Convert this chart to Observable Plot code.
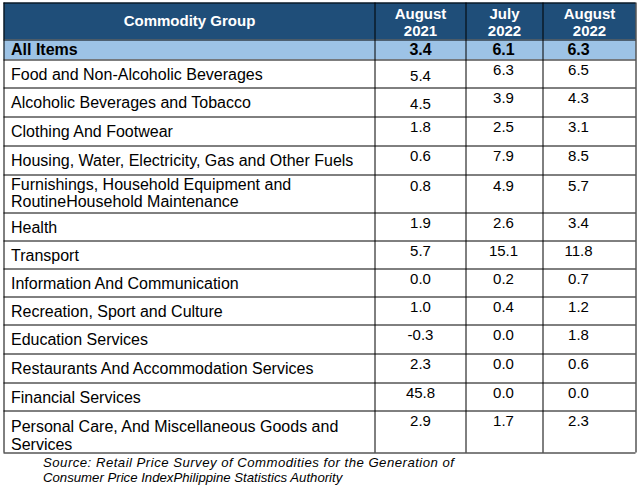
<!DOCTYPE html>
<html><head><meta charset="utf-8">
<script src="https://cdn.jsdelivr.net/npm/d3@7"></script>
<script src="https://cdn.jsdelivr.net/npm/@observablehq/plot@0.6"></script>
<style>html,body{margin:0;padding:0;background:#fff}</style>
</head><body><div id="chart"></div>
<script>
// ---- data ----
const columnHeaders = ["Commodity Group", "August\n2021", "July\n2022", "August\n2022"];
const groups = [
  "All Items",
  "Food and Non-Alcoholic Beverages",
  "Alcoholic Beverages and Tobacco",
  "Clothing And Footwear",
  "Housing, Water, Electricity, Gas and Other Fuels",
  "Furnishings, Household Equipment and\nRoutineHousehold Maintenance",
  "Health",
  "Transport",
  "Information And Communication",
  "Recreation, Sport and Culture",
  "Education Services",
  "Restaurants And Accommodation Services",
  "Financial Services",
  "Personal Care, And Miscellaneous Goods and\nServices"
];
const aug2021 = [3.4, 5.4, 4.5, 1.8, 0.6, 0.8, 1.9, 5.7, 0.0, 1.0, -0.3, 2.3, 45.8, 2.9];
const jul2022 = [6.1, 6.3, 3.9, 2.5, 7.9, 4.9, 2.6, 15.1, 0.2, 0.4, 0.0, 0.0, 0.0, 1.7];
const aug2022 = [6.3, 6.5, 4.3, 3.1, 8.5, 5.7, 3.4, 11.8, 0.7, 1.2, 1.8, 0.6, 0.0, 2.3];
const sourceLines = [
  "Source: Retail Price Survey of Commodities for the Generation of",
  "Consumer Price IndexPhilippine Statistics Authority"
];

// ---- layout / style ----
const W = 640, H = 488;
const colEdges = [3, 374, 465, 542, 635];
const rowEdges = [2, 39, 59, 87, 116, 145, 174, 212, 240, 268, 296, 324, 353, 382, 410, 452];
const valueDx = [0, -1, -11];
const headerFill = "#1F4E79", allItemsFill = "#9DC3E6";
const fontFamily = "'Liberation Sans', Arial, sans-serif";
const lowered = new Set([1, 2]);      // first value column sits lower in these rows
const centeredLabel = new Set([5]);   // label block vertically centred

const series = [aug2021, jul2022, aug2022];
const colCenter = j => (colEdges[j] + colEdges[j + 1]) / 2;
const rowTop = i => rowEdges[i + 1], rowBottom = i => rowEdges[i + 2];

// cells
const cells = [{x1: colEdges[0], x2: colEdges[4], y1: rowEdges[0], y2: rowEdges[1], fill: headerFill}];
groups.forEach((g, i) => cells.push({x1: colEdges[0], x2: colEdges[4], y1: rowTop(i), y2: rowBottom(i), fill: i === 0 ? allItemsFill : "#fff"}));

// header text
const headerText = columnHeaders.map((t, j) => ({x: colCenter(j), y: j === 0 ? 20 : 21.5, text: t}));

// labels
const labelLH = 17;
const labels = groups.map((g, i) => {
  const n = g.split("\n").length;
  let y;
  if (i === 0) y = (rowTop(i) + rowBottom(i)) / 2;
  else if (centeredLabel.has(i)) y = (rowTop(i) + rowBottom(i)) / 2 - 1;
  else y = rowTop(i) + 15 + (n - 1) * labelLH / 2 + (n > 1 ? 1 : 0);
  return {x: 10, y, text: g, bold: i === 0};
});

// values
const values = [];
groups.forEach((g, i) => series.forEach((s, j) => {
  const y = i === 0 ? (rowTop(i) + rowBottom(i)) / 2
          : rowTop(i) + ((j === 0 && lowered.has(i)) ? 16 : (centeredLabel.has(i) ? 11 : 10));
  values.push({x: colCenter(j + 1) + valueDx[j], y, text: s[i].toFixed(1), bold: i === 0});
}));

const hLines = rowEdges.map(y => ({y}));
const vLines = colEdges.map(x => ({x, y1: rowEdges[0], y2: rowEdges[rowEdges.length - 1]}));

const caption = sourceLines.map((t, k) => ({x: 42, y: 462 + k * 15, text: t}));

const chart = Plot.plot({
  width: W, height: H, margin: 0,
  x: {type: "linear", domain: [0, W], range: [0.5, W + 0.5], axis: null},
  y: {type: "linear", domain: [0, H], range: [0.5, H + 0.5], axis: null},
  style: {fontFamily, background: "#fff"},
  marks: [
    Plot.rect(cells, {x1: "x1", x2: "x2", y1: "y1", y2: "y2", fill: d => d.fill}),
    Plot.ruleY(hLines, {y: "y", x1: colEdges[0], x2: colEdges[4], stroke: "#000", strokeWidth: 1}),
    Plot.ruleX(vLines, {x: "x", y1: "y1", y2: "y2", stroke: "#000", strokeWidth: 1}),
    Plot.text(headerText, {x: "x", y: "y", text: "text", fill: "#fff", fontWeight: "bold", fontSize: 15, lineHeight: 1.13, textAnchor: "middle", lineAnchor: "middle"}),
    Plot.text(labels.filter(d => d.bold), {x: "x", y: "y", text: "text", fill: "#000", fontWeight: "bold", fontSize: 16, textAnchor: "start", lineAnchor: "middle"}),
    Plot.text(labels.filter(d => !d.bold), {x: "x", y: "y", text: "text", fill: "#000", fontSize: 16, lineHeight: 1.07, textAnchor: "start", lineAnchor: "middle"}),
    Plot.text(values.filter(d => d.bold), {x: "x", y: "y", text: "text", fill: "#000", fontWeight: "bold", fontSize: 16, textAnchor: "middle", lineAnchor: "middle"}),
    Plot.text(values.filter(d => !d.bold), {x: "x", y: "y", text: "text", fill: "#000", fontSize: 15, textAnchor: "middle", lineAnchor: "middle"}),
    Plot.text(caption, {x: "x", y: "y", text: "text", fill: "#000", fontStyle: "italic", fontSize: 13.2, textAnchor: "start", lineAnchor: "middle"})
  ]
});
d3.select(chart).selectAll("text").filter(function() { return this.textContent === sourceLines[0]; })
  .attr("textLength", 411).attr("lengthAdjust", "spacing");
document.getElementById("chart").appendChild(chart);
</script>
</body></html>
